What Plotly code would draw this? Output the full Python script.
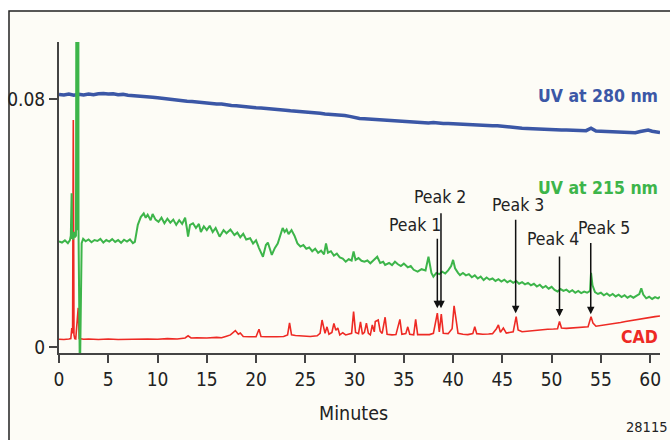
import plotly.graph_objects as go

# ---------------- data ----------------
uv280_t = [0, 0.5, 1.0, 1.5, 2.0, 2.5, 3.0, 3.5, 4.0, 4.5, 5.0, 5.5, 6.0, 6.5, 7.0, 7.5, 8.0, 8.5, 9.0, 9.5,
           10.0, 10.5, 11.0, 11.5, 12.0, 12.5, 13.0, 13.5, 14.0, 14.5, 15.0, 15.5, 16.0, 16.5, 17.0, 17.5,
           18.0, 18.5, 19.0, 19.5, 20.0, 20.5, 21.0, 21.5, 22.0, 22.5, 23.0, 23.5, 24.0, 24.5, 25.0, 25.5,
           26.0, 26.5, 27.0, 27.5, 28.0, 28.5, 29.0, 29.5, 30.0, 30.5, 31.0, 31.5, 32.0, 32.5, 33.0, 33.5,
           34.0, 34.5, 35.0, 35.5, 36.0, 36.5, 37.0, 37.5, 38.0, 38.5, 39.0, 39.5, 40.0, 40.5, 41.0, 41.5,
           42.0, 42.5, 43.0, 43.5, 44.0, 44.5, 45.0, 45.5, 46.0, 46.5, 47.0, 47.5, 48.0, 48.5, 49.0, 49.5,
           50.0, 50.5, 51.0, 51.5, 52.0, 52.5, 53.0, 53.5, 54.0, 54.3, 54.5, 55.0, 55.5, 56.0, 56.5, 57.0,
           57.5, 58.0, 58.5, 59.0, 59.5, 59.8, 60.2, 60.6, 61.0]
uv280_v = [0.0816, 0.0814, 0.0817, 0.0813, 0.0816, 0.0814, 0.0817, 0.0815, 0.0818, 0.0819, 0.0817, 0.0818,
           0.0815, 0.0816, 0.0813, 0.0812, 0.0810, 0.0811, 0.0808, 0.0807, 0.0805, 0.0803, 0.0800, 0.0799,
           0.0797, 0.0795, 0.0794, 0.0793, 0.0791, 0.0790, 0.0788, 0.0787, 0.0785, 0.0785, 0.0782, 0.0780,
           0.0779, 0.0777, 0.0776, 0.0775, 0.0773, 0.0772, 0.0771, 0.0770, 0.0769, 0.0767, 0.0765, 0.0763,
           0.0762, 0.0761, 0.0759, 0.0758, 0.0757, 0.0755, 0.0753, 0.0752, 0.0751, 0.0751, 0.0748, 0.0745,
           0.0741, 0.0738, 0.0737, 0.0736, 0.0734, 0.0733, 0.0732, 0.0730, 0.0729, 0.0728, 0.0727, 0.0727,
           0.0726, 0.0726, 0.0725, 0.0724, 0.0725, 0.0723, 0.0722, 0.0722, 0.0721, 0.0720, 0.0719, 0.0719,
           0.0718, 0.0718, 0.0717, 0.0716, 0.0715, 0.0715, 0.0713, 0.0712, 0.0709, 0.0708, 0.0707, 0.0706,
           0.0705, 0.0705, 0.0704, 0.0703, 0.0702, 0.0702, 0.0701, 0.0701, 0.0700, 0.0700, 0.0699, 0.0699,
           0.0707, 0.0700, 0.0698, 0.0697, 0.0696, 0.0695, 0.0694, 0.0693, 0.0692, 0.0691, 0.0692, 0.0696,
           0.0700, 0.0701, 0.0697, 0.0694, 0.0693]

uv215_t = [0.0, 0.3, 0.6, 0.9, 1.1, 1.2, 1.28, 1.33, 1.45, 1.55, 1.62, 1.72, 1.78, 1.84, 1.86, 1.90, 1.96,
           1.98, 2.06, 2.12, 2.30, 2.45, 2.7, 3.0, 3.3, 3.6, 3.9, 4.2, 4.5, 4.8, 5.1, 5.4, 5.7, 6.0, 6.3,
           6.6, 6.9, 7.2, 7.5, 7.7, 8.0, 8.3, 8.6, 8.8, 9.0, 9.3, 9.5, 9.8, 10.1, 10.4, 10.7, 11.0, 11.3,
           11.6, 11.9, 12.2, 12.5, 12.8, 13.0, 13.1, 13.3, 13.6, 13.9, 14.2, 14.4, 14.7, 15.0, 15.3, 15.6,
           15.9, 16.3, 16.7, 17.0, 17.4, 17.8, 18.1, 18.4, 18.7, 19.0, 19.4, 19.7, 20.0, 20.3, 20.7, 21.0,
           21.2, 21.6, 21.9, 22.2, 22.5, 22.7, 22.9, 23.1, 23.3, 23.6, 23.9, 24.2, 24.5, 24.8, 25.1, 25.4,
           25.7, 26.0, 26.3, 26.6, 26.9, 27.1, 27.3, 27.6, 27.9, 28.2, 28.5, 28.8, 29.1, 29.4, 29.7, 29.9,
           30.1, 30.4, 30.7, 31.0, 31.3, 31.6, 31.9, 32.3, 32.6, 32.9, 33.1, 33.5, 33.8, 34.1, 34.4, 34.7,
           35.0, 35.4, 35.7, 36.0, 36.4, 36.8, 37.2, 37.5, 37.8, 38.0, 38.3, 38.6, 38.9, 39.2, 39.5, 39.8,
           40.0, 40.2, 40.5, 40.7, 41.0, 41.3, 41.6, 41.9, 42.2, 42.5, 42.8, 43.1, 43.4, 43.7, 44.0, 44.3,
           44.6, 44.9, 45.2, 45.5, 45.8, 46.1, 46.4, 46.7, 47.0, 47.3, 47.6, 47.9, 48.2, 48.5, 48.8, 49.1,
           49.4, 49.7, 50.0, 50.3, 50.6, 50.9, 51.2, 51.5, 51.8, 52.1, 52.4, 52.7, 53.0, 53.3, 53.6, 53.9,
           54.0, 54.15, 54.4, 54.7, 55.0, 55.3, 55.6, 55.9, 56.2, 56.5, 56.8, 57.1, 57.4, 57.7, 58.0, 58.3,
           58.6, 58.9, 59.1, 59.3, 59.6, 59.9, 60.2, 60.5, 60.8, 61.0]
uv215_v = [0.0342, 0.0338, 0.0345, 0.0336, 0.0345, 0.0360, 0.0497, 0.0352, 0.0350, 0.0372, 0.0355, 0.0360,
           0.1500, 0.1500, 0.0378, 0.1500, 0.1500, 0.0378, -0.0100, -0.0100, 0.0336, 0.0350, 0.0342, 0.0348,
           0.0339, 0.0346, 0.0343, 0.0350, 0.0338, 0.0346, 0.0341, 0.0349, 0.0340, 0.0346, 0.0337, 0.0347,
           0.0341, 0.0348, 0.0336, 0.0340, 0.0395, 0.0420, 0.0432, 0.0418, 0.0428, 0.0410, 0.0430, 0.0412,
           0.0405, 0.0418, 0.0400, 0.0415, 0.0402, 0.0412, 0.0395, 0.0410, 0.0398, 0.0418, 0.0380, 0.0357,
           0.0395, 0.0400, 0.0385, 0.0398, 0.0372, 0.0390, 0.0378, 0.0392, 0.0372, 0.0385, 0.0357, 0.0378,
           0.0368, 0.0380, 0.0362, 0.0370, 0.0355, 0.0366, 0.0348, 0.0352, 0.0335, 0.0345, 0.0320, 0.0292,
           0.0330, 0.0338, 0.0298, 0.0320, 0.0335, 0.0370, 0.0385, 0.0372, 0.0380, 0.0365, 0.0378, 0.0360,
           0.0335, 0.0325, 0.0330, 0.0318, 0.0322, 0.0310, 0.0318, 0.0305, 0.0312, 0.0300, 0.0335, 0.0305,
           0.0310, 0.0296, 0.0302, 0.0290, 0.0286, 0.0276, 0.0284, 0.0280, 0.0309, 0.0282, 0.0288, 0.0279,
           0.0276, 0.0280, 0.0271, 0.0280, 0.0292, 0.0272, 0.0276, 0.0266, 0.0272, 0.0265, 0.0276, 0.0268,
           0.0262, 0.0270, 0.0258, 0.0262, 0.0250, 0.0244, 0.0252, 0.0248, 0.0292, 0.0240, 0.0228, 0.0240,
           0.0236, 0.0244, 0.0238, 0.0248, 0.0262, 0.0282, 0.0255, 0.0240, 0.0233, 0.0240, 0.0232, 0.0236,
           0.0226, 0.0232, 0.0222, 0.0228, 0.0217, 0.0225, 0.0218, 0.0222, 0.0214, 0.0220, 0.0212, 0.0218,
           0.0210, 0.0215, 0.0208, 0.0214, 0.0205, 0.0210, 0.0203, 0.0208, 0.0200, 0.0205, 0.0196, 0.0202,
           0.0192, 0.0198, 0.0189, 0.0195, 0.0185, 0.0180, 0.0188, 0.0182, 0.0186, 0.0178, 0.0184, 0.0176,
           0.0182, 0.0175, 0.0180, 0.0176, 0.0182, 0.0240, 0.0200, 0.0178, 0.0172, 0.0176, 0.0168, 0.0174,
           0.0166, 0.0172, 0.0164, 0.0170, 0.0162, 0.0168, 0.0160, 0.0166, 0.0160, 0.0166, 0.0172, 0.0190,
           0.0170, 0.0158, 0.0163, 0.0156, 0.0162, 0.0158, 0.0163]

cad_t = [0.0, 0.5, 1.0, 1.2, 1.3, 1.38, 1.45, 1.52, 1.6, 1.7, 1.95, 2.05, 2.5, 3.0, 4.0, 5.0, 6.0, 7.0, 8.0,
         9.0, 10.0, 11.0, 12.0, 12.8, 13.1, 13.4, 14.0, 15.0, 16.0, 16.5, 17.0, 17.4, 17.9, 18.2, 18.4,
         18.7, 19.3, 20.0, 20.3, 20.5, 21.0, 21.5, 22.1, 22.8, 23.2, 23.4, 23.6, 24.0, 25.0, 25.5, 26.2,
         26.5, 26.7, 26.9, 27.0, 27.2, 27.4, 27.7, 27.9, 28.1, 28.3, 28.5, 28.8, 29.1, 29.4, 29.7, 29.9,
         30.1, 30.4, 30.6, 30.8, 31.0, 31.2, 31.4, 31.6, 31.8, 32.0, 32.1, 32.4, 32.6, 32.8, 33.1, 33.3,
         33.8, 34.2, 34.6, 34.8, 35.2, 35.4, 35.6, 36.0, 36.2, 36.4, 37.0, 37.6, 38.0, 38.4, 38.6, 38.8,
         39.0, 39.5, 39.9, 40.1, 40.3, 40.5, 41.0, 41.5, 42.0, 42.2, 42.4, 43.0, 43.6, 44.0, 44.4, 44.6,
         44.8, 45.1, 45.4, 45.8, 46.1, 46.4, 46.6, 47.0, 47.5, 48.0, 48.5, 49.0, 49.6, 50.2, 50.6, 50.8,
         51.0, 51.5, 52.0, 52.5, 53.1, 53.7, 54.0, 54.2, 54.5, 55.0, 55.5, 56.0, 56.5, 57.0, 57.5, 58.0,
         58.5, 59.0, 59.5, 60.0, 60.5, 61.0]
cad_v = [0.0026, 0.0025, 0.0027, 0.0028, 0.0062, 0.0045, 0.0733, 0.0040, 0.0028, 0.0027, 0.0127, 0.0028,
         0.0026, 0.0027, 0.0025, 0.0027, 0.0025, 0.0026, 0.0025, 0.0027, 0.0026, 0.0028, 0.0027, 0.0030,
         0.0037, 0.0030, 0.0031, 0.0030, 0.0032, 0.0031, 0.0036, 0.0040, 0.0054, 0.0042, 0.0046, 0.0035,
         0.0034, 0.0034, 0.0058, 0.0035, 0.0034, 0.0033, 0.0034, 0.0035, 0.0040, 0.0079, 0.0040, 0.0038,
         0.0036, 0.0035, 0.0037, 0.0045, 0.0088, 0.0050, 0.0045, 0.0066, 0.0042, 0.0048, 0.0077, 0.0055,
         0.0062, 0.0040, 0.0047, 0.0040, 0.0042, 0.0045, 0.0115, 0.0048, 0.0044, 0.0082, 0.0042, 0.0048,
         0.0078, 0.0045, 0.0040, 0.0072, 0.0050, 0.0083, 0.0088, 0.0052, 0.0045, 0.0097, 0.0042, 0.0040,
         0.0041, 0.0090, 0.0042, 0.0044, 0.0066, 0.0042, 0.0040, 0.0090, 0.0041, 0.0040, 0.0041, 0.0045,
         0.0110, 0.0050, 0.0107, 0.0045, 0.0044, 0.0060, 0.0134, 0.0090, 0.0045, 0.0042, 0.0041, 0.0044,
         0.0066, 0.0044, 0.0042, 0.0043, 0.0044, 0.0060, 0.0072, 0.0048, 0.0062, 0.0046, 0.0047, 0.0050,
         0.0099, 0.0056, 0.0050, 0.0052, 0.0054, 0.0055, 0.0056, 0.0058, 0.0059, 0.0060, 0.0083, 0.0062,
         0.0061, 0.0062, 0.0063, 0.0065, 0.0066, 0.0099, 0.0078, 0.0068, 0.0070, 0.0072, 0.0074, 0.0077,
         0.0080, 0.0083, 0.0086, 0.0089, 0.0091, 0.0094, 0.0097, 0.0099, 0.0101]

# peak labels
peak_labels = ["Peak 1", "Peak 2", "Peak 3", "Peak 4", "Peak 5"]
peak_times = [38.4, 38.77, 46.35, 50.8, 53.97]
peak_tip = [0.0126, 0.0126, 0.0110, 0.0099, 0.0107]
peak_tail = [0.0355, 0.0437, 0.0416, 0.0298, 0.0341]
peak_label_x = [36.13, 38.72, 46.54, 50.19, 55.27]
peak_label_y = [0.0395, 0.0486, 0.0459, 0.0348, 0.0384]

series_names = ["UV at 280 nm", "UV at 215 nm", "CAD"]
series_label_y = [0.0811, 0.0513, 0.0034]

x_ticks = [0, 5, 10, 15, 20, 25, 30, 35, 40, 45, 50, 55, 60]
y_ticks = [0, 0.08]
y_ticktext = ["0", "0.08"]

BLUE = "#3b57a6"
GREEN = "#3db54a"
RED = "#ee2a24"
AX = "#444444"
FONT = "DejaVu Sans Condensed, Liberation Sans, sans-serif"
TXT = "#222222"

fig = go.Figure()
fig.add_trace(go.Scatter(x=uv280_t, y=uv280_v, mode="lines", line=dict(color=BLUE, width=3.5)))
fig.add_trace(go.Scatter(x=cad_t, y=cad_v, mode="lines", line=dict(color=RED, width=1.6)))
fig.add_trace(go.Scatter(x=uv215_t, y=uv215_v, mode="lines", line=dict(color=GREEN, width=2)))

ann = []
for name, yv, col in zip(series_names, series_label_y, [BLUE, GREEN, RED]):
    ann.append(dict(x=1.0, xref="paper", y=yv, yref="y", text="<b>%s</b>" % name, showarrow=False,
                    xanchor="right", yanchor="middle", font=dict(family=FONT, size=17.5, color=col)))
for lab, px, py, tx, tip, tail in zip(peak_labels, peak_label_x, peak_label_y, peak_times, peak_tip, peak_tail):
    ann.append(dict(x=px, y=py, xref="x", yref="y", text=lab, showarrow=False,
                    font=dict(family=FONT, size=17.5, color=TXT)))
    ann.append(dict(x=tx, y=tip, xref="x", yref="y", ax=tx, ay=tail, axref="x", ayref="y", text="",
                    showarrow=True, arrowhead=2, arrowsize=1.0, arrowwidth=1.5, arrowcolor="#111111"))
ann.append(dict(x=29.84, xref="x", y=-0.193, yref="paper", text="Minutes", showarrow=False,
                xanchor="center", yanchor="middle", font=dict(family=FONT, size=19.5, color=TXT)))
ann.append(dict(x=0.978, xref="paper", y=-0.237, yref="paper", text="28115", showarrow=False,
                xanchor="center", yanchor="middle", font=dict(family=FONT, size=14.5, color=TXT)))

fig.update_layout(
    width=670, height=440,
    margin=dict(l=59, r=10, t=42, b=87),
    paper_bgcolor="#ffffff",
    plot_bgcolor="rgba(0,0,0,0)",
    showlegend=False,
    annotations=ann,
    shapes=[dict(type="rect", xref="paper", yref="paper", x0=-0.0832, x1=1.03, y0=-0.30, y1=1.0997,
                 line=dict(color="#222222", width=1.5), fillcolor="#fdfcf6", layer="below")],
    font=dict(family=FONT, size=19, color=TXT),
)
fig.update_xaxes(range=[0, 61.0], tickvals=x_ticks, showgrid=False, zeroline=False, showline=True,
                 automargin=False,
                 linecolor=AX, linewidth=2, ticks="outside", ticklen=8, tickwidth=1.5, tickcolor=AX,
                 tickfont=dict(family=FONT, size=19, color=TXT))
fig.update_yaxes(range=[-0.00184, 0.0985], tickvals=y_ticks, ticktext=y_ticktext, showgrid=False,
                 automargin=False,
                 zeroline=False, showline=True, linecolor=AX, linewidth=2, ticks="outside", ticklen=8,
                 tickwidth=1.5, tickcolor=AX, tickfont=dict(family=FONT, size=19, color=TXT))

fig.write_html("out.html")
